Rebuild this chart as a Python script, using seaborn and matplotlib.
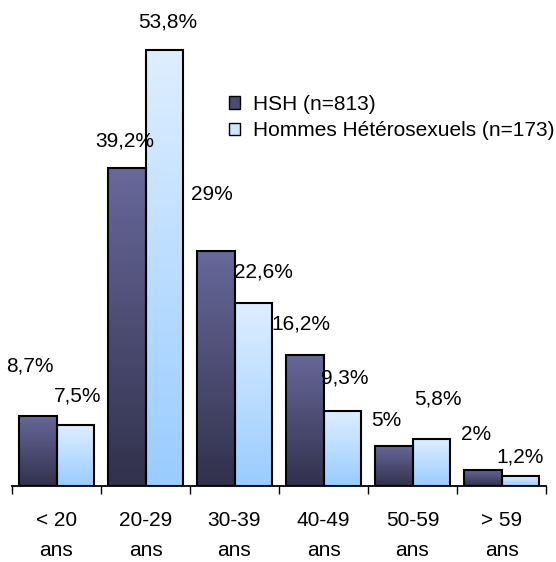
import numpy as np
import pandas as pd
import matplotlib
matplotlib.use('Agg')
import matplotlib.pyplot as plt
import seaborn as sns
from matplotlib.colors import LinearSegmentedColormap
from matplotlib.patches import Patch

# data
categories = ['< 20\nans', '20-29\nans', '30-39\nans', '40-49\nans', '50-59\nans', '> 59\nans']
hsh = [8.7, 39.2, 29, 16.2, 5, 2]
hetero = [7.5, 53.8, 22.6, 9.3, 5.8, 1.2]
series_names = ['HSH (n=813)', 'Hommes Hétérosexuels (n=173)']

# label offsets (pixels) from top centre of each bar, Excel-ish placement
offsets = [
    [(-8, 50), (-2, 27), (-4, 57), (-4, 31), (-7, 25), (-7, 35)],
    [(2, 29), (3, 28), (10, 31), (2, 33), (6, 40), (0, 19)],
]
grads = [('#68689b', '#31314c'), ('#deeeff', '#99ccff')]
legend_cols = ['#4b4b72', '#cfe6ff']
fs = 15

df = pd.DataFrame({
    'age': categories * 2,
    'pct': hsh + hetero,
    'group': [series_names[0]] * len(hsh) + [series_names[1]] * len(hetero),
})

sns.set_style('white')
plt.rcParams['font.family'] = ['Liberation Sans', 'DejaVu Sans']
plt.rcParams['text.color'] = 'black'
plt.rcParams['xtick.color'] = 'black'

fig = plt.figure(figsize=(5.56, 5.62), dpi=100)
ax = fig.add_axes([12 / 556, 76 / 562, 534 / 556, 486 / 562])

sns.barplot(data=df, x='age', y='pct', hue='group', hue_order=series_names,
            width=0.85, ax=ax, legend=False, edgecolor='black', linewidth=1.5,
            errorbar=None)

# gradient fill, clipped to each bar
for i, cont in enumerate(ax.containers):
    cmap = LinearSegmentedColormap.from_list('g%d' % i, [grads[i][1], grads[i][0]])
    vals = hsh if i == 0 else hetero
    for j, bar in enumerate(cont):
        x0, y0 = bar.get_x(), bar.get_y()
        w, h = bar.get_width(), bar.get_height()
        bar.set_facecolor('none')
        bar.set_zorder(3)
        img = ax.imshow(np.linspace(0, 1, 256).reshape(-1, 1), cmap=cmap,
                        extent=[x0, x0 + w, y0, y0 + h], origin='lower',
                        aspect='auto', zorder=2)
        img.set_clip_path(bar)
        lab = f"{vals[j]:g}".replace('.', ',') + '%'
        dx, dy = offsets[i][j]
        ax.annotate(lab, xy=(x0 + w / 2, y0 + h), xytext=(dx, dy),
                    textcoords='offset pixels', ha='center', va='center',
                    fontsize=fs, color='black', annotation_clip=False)

ax.set_xlim(-0.5, len(categories) - 0.5)
ax.set_ylim(0, 60)

for s in ['top', 'right', 'left']:
    ax.spines[s].set_visible(False)
ax.spines['bottom'].set_color('black')
ax.spines['bottom'].set_linewidth(1.3)
ax.set_yticks([])
ax.set_xlabel('')
ax.set_ylabel('')
ax.set_xticks(range(len(categories)))
ax.set_xticklabels(categories, fontsize=fs, linespacing=1.75, color='black')
ax.set_xticks(np.arange(-0.5, len(categories), 1.0), minor=True)
ax.tick_params(axis='x', which='major', length=0, pad=18)
ax.tick_params(axis='x', which='minor', length=6, width=1.0, color='black',
               direction='out', bottom=True)

handles = [Patch(facecolor=c, edgecolor='black', linewidth=1.0) for c in legend_cols]
fig.legend(handles, series_names, loc='upper left',
           bbox_to_anchor=(229 / 556, 1 - 95 / 562), frameon=False,
           fontsize=fs, handlelength=0.55, handleheight=0.55,
           handletextpad=0.6, labelspacing=0.35, borderpad=0, borderaxespad=0)

fig.savefig('out.png', dpi=100)
